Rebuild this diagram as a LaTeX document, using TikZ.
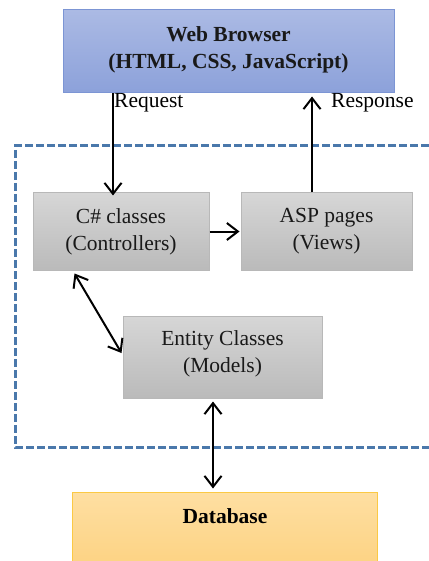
\documentclass[tikz,border=0pt]{standalone}
\usepackage{fontspec}
\setmainfont{Liberation Serif}
\usetikzlibrary{arrows.meta,calc}
\begin{document}
\begin{tikzpicture}[x=1pt,y=-1pt,
  box/.style={draw, rectangle, align=center, inner sep=0pt, font=\fontsize{21.5}{27}\selectfont, text=black!90},
  graybox/.style={box, draw=black!28, line width=1pt, top color=black!16, bottom color=black!27},
  tip/.style={Straight Barb[length=11pt,width=17pt,line width=2pt]},
  conn/.style={line width=2pt, -{Straight Barb[length=11pt,width=17pt,line width=2pt]}},
  dconn/.style={line width=2pt, {Straight Barb[length=11pt,width=17pt,line width=2pt]}-{Straight Barb[length=11pt,width=17pt,line width=2pt]}},
  lbl/.style={font=\fontsize{21.5}{27}\selectfont, inner sep=0pt, anchor=west}
]
\definecolor{wbtop}{HTML}{ABBAE4}
\definecolor{wbbot}{HTML}{8CA1DA}
\definecolor{wbedge}{HTML}{7C95D4}
\definecolor{dbtop}{HTML}{FEDFA2}
\definecolor{dbbot}{HTML}{FCD07C}
\definecolor{dbedge}{HTML}{FBC944}
\definecolor{dashc}{HTML}{4A78AB}
\useasboundingbox (0,0) rectangle (428,561);

% dashed container
\draw[dashc, line width=3pt, dash pattern=on 8pt off 3pt] (440,146) -- (15,146) -- (15,447) -- (440,447);

\node[box, draw=wbedge, line width=1pt, top color=wbtop, bottom color=wbbot, minimum width=331, minimum height=83, text depth=8pt]
  (wb) at (228.5,51.5) {\textbf{Web Browser}\\\textbf{(HTML, CSS, JavaScript)}};
\node[graybox, minimum width=176, minimum height=77] (c) at (121,231.5) {C\# classes\\(Controllers)};
\node[graybox, minimum width=171, minimum height=77] (a) at (326.5,231.5) {ASP pages\\(Views)};
\node[graybox, minimum width=199, minimum height=82, text depth=10pt] (e) at (222.5,357) {Entity Classes\\(Models)};
\node[box, draw=dbedge, line width=1pt, top color=dbtop, bottom color=dbbot, minimum width=305, minimum height=90] (db) at (224.5,537) {};
\node[font=\fontsize{21.5}{27}\selectfont\bfseries, inner sep=0pt] (dbl) at (225,516) {Database};

\node[lbl] (req) at (114,103) {Request};
\node[lbl] (resp) at (331,103) {Response};

\draw[conn] ([xshift=-115.5]wb.south) -- ([xshift=-8,yshift=-3]c.north);
\draw[conn] ([xshift=-14.5]a.north) -- ([xshift=-14.5,yshift=-3]a.north |- wb.south);
\draw[conn] (c.east) -- ([xshift=-1]a.west);
\coordinate (cs) at ([xshift=42,yshift=-3]c.south west);
\coordinate (ew) at ([xshift=-1,yshift=4]e.west);
\draw[dconn] (cs) -- (ew);
\draw[dconn] ([xshift=-9.5,yshift=-3]e.south) -- ([xshift=-9.5,yshift=3]e.south |- db.north);
\end{tikzpicture}
\end{document}
